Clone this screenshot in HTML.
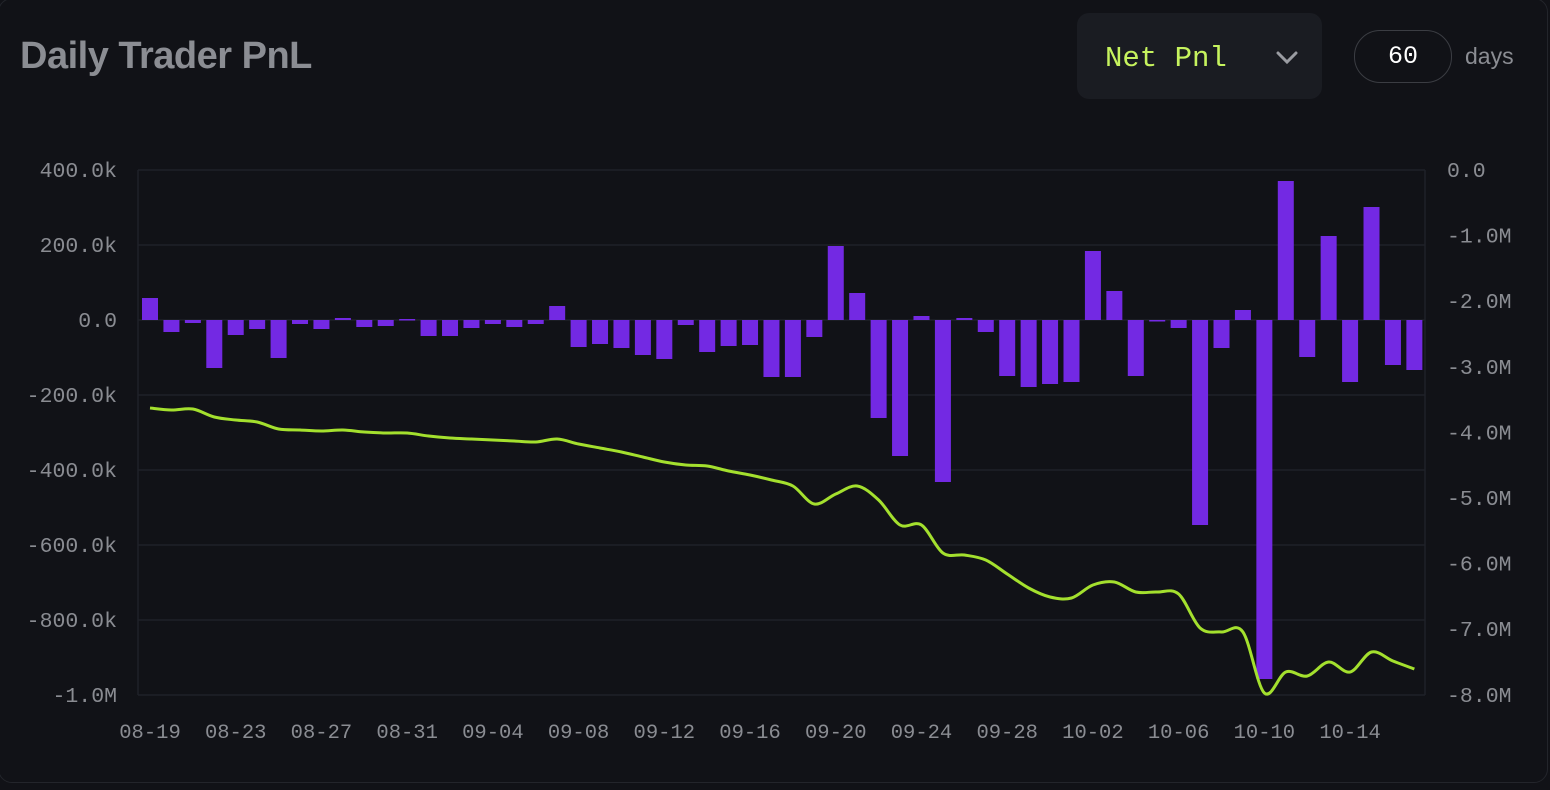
<!DOCTYPE html>
<html><head><meta charset="utf-8"><style>
body{margin:0;width:1550px;height:790px;background:#111217;overflow:hidden;font-family:"Liberation Sans",sans-serif}
.card{position:absolute;left:-2px;top:-2px;width:1548px;height:783px;border:1px solid #23252b;border-radius:14px}
.title{position:absolute;left:20px;top:35px;font-size:38px;font-weight:bold;color:#8b8d93;letter-spacing:-0.5px}
.dd{position:absolute;left:1077px;top:13px;width:245px;height:86px;background:#1a1c22;border-radius:12px}
.dd span{position:absolute;left:28px;top:29px;font-family:"Liberation Mono",monospace;font-size:29px;color:#c6f35e}
.pill{position:absolute;left:1354px;top:30px;width:96px;height:51px;border:1.5px solid #3b3d43;border-radius:26px;color:#fff;font-family:"Liberation Mono",monospace;font-size:25px;text-align:center;line-height:51px}
.days{position:absolute;left:1465px;top:43px;font-size:23px;color:#8b8d93}
</style></head><body>
<div class="card"></div>
<div class="title">Daily Trader PnL</div>
<div class="dd"><span>Net Pnl</span>
<svg style="position:absolute;left:199px;top:38px" width="22" height="14"><path d="M2 2 L11 11 L20 2" stroke="#9a9ca2" stroke-width="3" fill="none" stroke-linecap="round"/></svg></div>
<div class="pill">60</div>
<div class="days">days</div>
<svg id="c" width="1550" height="790" style="position:absolute;left:0;top:0"></svg>
<script>
const s=document.getElementById('c');let h='';
const ys=[170,245,320,395,470,545,620,695];
const L=['400.0k','200.0k','0.0','-200.0k','-400.0k','-600.0k','-800.0k','-1.0M'];
const R=['0.0','-1.0M','-2.0M','-3.0M','-4.0M','-5.0M','-6.0M','-7.0M','-8.0M'];
ys.forEach((y,i)=>{h+=`<line x1="138" x2="1425" y1="${y}" y2="${y}" stroke="#1f2128" stroke-width="1.5"/>`;
h+=`<text x="117" y="${y+7}" text-anchor="end" fill="#8a8c92" font-family="Liberation Mono,monospace" font-size="21.5">${L[i]}</text>`;});
R.forEach((t,i)=>{h+=`<text x="1447" y="${170+i*65.6+7}" fill="#8a8c92" font-family="Liberation Mono,monospace" font-size="21.5">${t}</text>`;});
h+=`<line x1="138" x2="138" y1="170" y2="695" stroke="#1f2128" stroke-width="1.5"/><line x1="1425" x2="1425" y1="170" y2="695" stroke="#1f2128" stroke-width="1.5"/>`;
const d=21.43,X=i=>150+d*i;
const B=[22,-12,-3,-48,-15,-9,-38,-4,-9,2,-7,-6,1,-16,-16,-8,-4,-7,-4,14,-27,-24,-28,-35,-39,-5,-32,-26,-25,-57,-57,-17,74,27,-98,-136,4,-162,2,-12,-56,-67,-64,-62,69,29,-56,-1,-8,-205,-28,10,-359,139,-37,84,-62,113,-45,-50];
B.forEach((v,i)=>{const y=v>0?320-v:320,hh=Math.max(Math.abs(v),1.5);h+=`<rect x="${X(i)-8}" y="${y}" width="16" height="${hh}" fill="#7329e3"/>`;});
const P=[408,410,409,417,420,422,429,430,431,430,432,433,433,436,438,439,440,441,442,439,444,448,452,457,462,465,466,471,475,480,486,504,494,486,500,525,525,553,555,560,574,588,597,598,585,582,592,592,594,628,632,632,693,672,676,662,672,652,661,669];
const pts=P.map((y,i)=>[X(i),y]);let p=`M${pts[0][0]} ${pts[0][1]}`;
for(let i=0;i<pts.length-1;i++){const a=pts[Math.max(i-1,0)],b=pts[i],c=pts[i+1],e=pts[Math.min(i+2,pts.length-1)];
p+=` C${b[0]+(c[0]-a[0])/6} ${b[1]+(c[1]-a[1])/6} ${c[0]-(e[0]-b[0])/6} ${c[1]-(e[1]-b[1])/6} ${c[0]} ${c[1]}`;}
h+=`<path d="${p}" stroke="#a4e02e" stroke-width="3" fill="none"/>`;
const D=['08-19','08-23','08-27','08-31','09-04','09-08','09-12','09-16','09-20','09-24','09-28','10-02','10-06','10-10','10-14'];
D.forEach((t,k)=>{h+=`<text x="${X(k*4)}" y="738" text-anchor="middle" fill="#8a8c92" font-family="Liberation Mono,monospace" font-size="20.5">${t}</text>`;});
s.innerHTML=h;
</script>
</body></html>
